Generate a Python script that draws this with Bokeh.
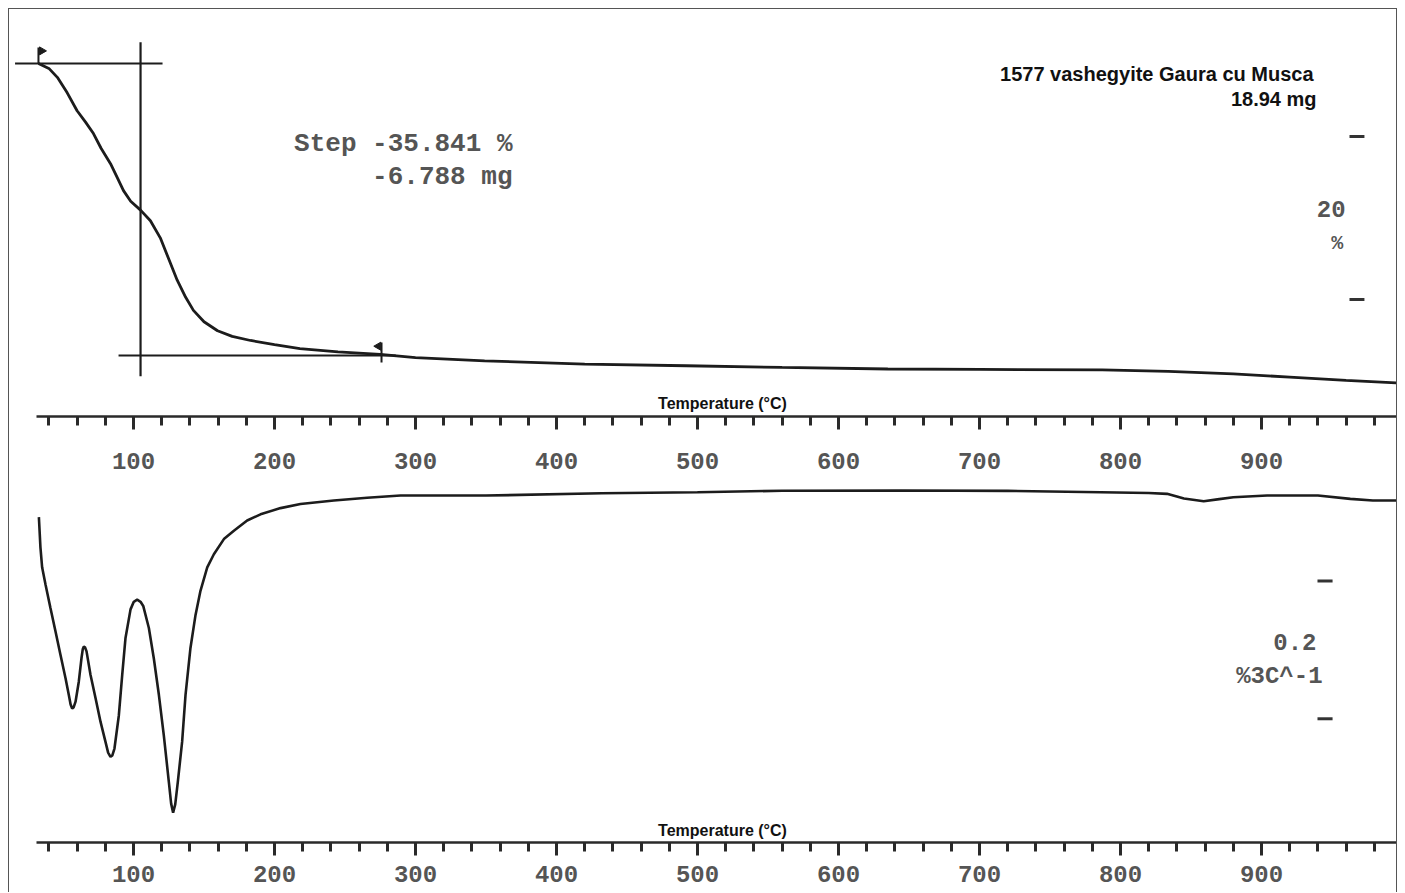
from bokeh.plotting import figure
from bokeh.layouts import column
from bokeh.models import Range1d, FixedTicker, Label
from bokeh.embed import file_html
from bokeh.resources import INLINE
import math

# ---------------- data ----------------
# TGA curve: temperature (deg C) vs mass (%)
tga_temp = [32.6, 40.0, 46.0, 53.0, 60.0, 66.0, 71.6, 77.0, 83.7, 88.5, 92.9, 98.0, 105.0, 112.0,
            119.0, 125.0, 131.0, 137.0, 142.5, 150.0, 159.6, 170.0, 183.0, 200.0, 218.0, 245.0,
            275.0, 300.0, 349.0, 420.0, 492.0, 560.0, 635.0, 700.0, 787.0, 834.0, 880.0, 920.0,
            960.0, 995.7]
tga_mass = [100.0, 99.4, 98.3, 96.4, 94.2, 92.8, 91.4, 89.6, 87.7, 86.0, 84.4, 83.1, 82.0, 80.7,
            78.6, 76.0, 73.4, 71.3, 69.7, 68.3, 67.2, 66.5, 66.0, 65.5, 65.0, 64.6,
            64.3, 63.9, 63.5, 63.1, 62.9, 62.7, 62.5, 62.45, 62.4, 62.2, 61.9, 61.5,
            61.1, 60.8]

# DTG curve: temperature (deg C) vs mass-loss rate (%/deg C)
dtg_temp = [32.9, 34.0, 35.2, 37.6, 41.1, 44.7, 48.2, 51.8, 54.1, 55.4, 56.5, 57.6, 58.9, 61.2,
            63.1, 64.0, 64.8, 65.6, 66.7, 69.5, 73.1, 76.6, 80.1, 82.0, 83.7, 85.0, 86.5, 89.6,
            92.0, 94.3, 97.9, 100.2, 102.6, 105.0, 106.9, 110.9, 114.4, 118.0, 121.5, 125.1,
            126.7, 128.1, 129.6, 131.4, 134.5, 136.9, 140.4, 144.0, 147.5, 152.3, 157.0, 164.1,
            171.2, 180.6, 190.1, 204.3, 218.4, 242.1, 265.7, 289.4, 350.0, 432.0, 500.0, 560.0,
            644.0, 720.0, 786.0, 820.0, 833.0, 845.0, 859.0, 870.0, 880.0, 904.0, 940.0, 963.0,
            979.0, 995.7]
dtg_rate = [-0.040, -0.084, -0.113, -0.138, -0.172, -0.206, -0.240, -0.274, -0.298, -0.312,
            -0.318, -0.316, -0.308, -0.279, -0.245, -0.232, -0.228, -0.229, -0.235, -0.269,
            -0.303, -0.337, -0.366, -0.382, -0.388, -0.386, -0.376, -0.328, -0.269, -0.216,
            -0.174, -0.163, -0.160, -0.163, -0.169, -0.201, -0.245, -0.298, -0.357, -0.425,
            -0.456, -0.469, -0.457, -0.425, -0.366, -0.298, -0.230, -0.182, -0.147, -0.113,
            -0.094, -0.072, -0.060, -0.045, -0.036, -0.027, -0.021, -0.016, -0.012, -0.0088,
            -0.0088, -0.0054, -0.0040, -0.0018, -0.0015, -0.0020, -0.0039, -0.0050, -0.0063,
            -0.0131, -0.0171, -0.0140, -0.0112, -0.0088, -0.0088, -0.0136, -0.0160, -0.0160]

major_ticks = [100, 200, 300, 400, 500, 600, 700, 800, 900]
minor_ticks = [40, 60, 80, 120, 140, 160, 180, 220, 240, 260, 280, 320, 340, 360, 380,
               420, 440, 460, 480, 520, 540, 560, 580, 620, 640, 660, 680, 720, 740, 760, 780,
               820, 840, 860, 880, 920, 940, 960, 980]

# step evaluation (TGA)
step_start_mass = 100.0
step_pct = -35.841
step_mg = -6.788
step_mid_temp = 105.0
step_left_temp = [16.0, 89.4]
step_right_temp = [120.6, 286.0]
step_vert_mass = [102.6, 61.6]
flag_start_temp = 32.6
flag_end_temp = 275.9

sample_name = "1577 vashegyite Gaura cu Musca"
sample_mass = "18.94 mg"
x_label = "Temperature (\u00b0C)"

# scale bars
tga_bar = [91.04, 71.04]          # 20 %
dtg_bar = [-0.1328, -0.3328]      # 0.2 %/degC

# ---------------- styling ----------------
INK = "#1c1c1c"
GREY = "#555555"
MONO = "Liberation Mono"
SANS = "Liberation Sans"

X_RANGE = (12.06, 995.74)
W = 1387


def style_axis(p, standoff):
    ax = p.xaxis[0]
    ax.ticker = FixedTicker(ticks=major_ticks, minor_ticks=minor_ticks)
    ax.bounds = (31.0, 995.74)
    ax.axis_line_width = 2.5
    ax.axis_line_color = "#2a2a2a"
    ax.major_tick_line_width = 3
    ax.minor_tick_line_width = 3
    ax.major_tick_line_color = "#2a2a2a"
    ax.minor_tick_line_color = "#2a2a2a"
    ax.major_tick_out = 13
    ax.major_tick_in = 0
    ax.minor_tick_out = 9
    ax.minor_tick_in = 0
    ax.major_label_text_font = MONO
    ax.major_label_text_font_style = "bold"
    ax.major_label_text_font_size = "24px"
    ax.major_label_text_color = GREY
    ax.major_label_standoff = standoff


def base_fig(height, y_range, border_bottom):
    p = figure(width=W, height=height, x_range=Range1d(*X_RANGE), y_range=Range1d(*y_range),
               output_backend="svg", toolbar_location=None, y_axis_location=None,
               min_border_left=0, min_border_right=0, min_border_top=0,
               min_border_bottom=border_bottom)
    p.grid.visible = False
    p.outline_line_color = None
    p.background_fill_color = "white"
    p.border_fill_color = "white"
    return p


def mono_label(p, x, y, text, size="24px"):
    p.add_layout(Label(x=x, y=y, text=text, text_font=MONO, text_font_style="bold",
                       text_font_size=size, text_color=GREY, text_align="right",
                       text_baseline="middle"))


def sans_label(p, x, y, text, size, align):
    p.add_layout(Label(x=x, y=y, text=text, text_font=SANS, text_font_style="bold",
                       text_font_size=size, text_color="#111111", text_align=align,
                       text_baseline="middle"))


# ---------------- top: TGA ----------------
p1 = base_fig(479, (56.67, 106.63), 72)
style_axis(p1, 23)
p1.line(tga_temp, tga_mass, line_color=INK, line_width=2.8)

end_mass = step_start_mass + step_pct
p1.segment(x0=[step_left_temp[0], step_mid_temp, step_left_temp[1]],
           y0=[step_start_mass, step_vert_mass[0], end_mass],
           x1=[step_right_temp[0], step_mid_temp, step_right_temp[1]],
           y1=[step_start_mass, step_vert_mass[1], end_mass],
           line_color=INK, line_width=2.2)
# evaluation limit flags
p1.segment(x0=[flag_start_temp, flag_end_temp], y0=[100.0, 63.3],
           x1=[flag_start_temp, flag_end_temp], y1=[101.96, 65.75],
           line_color=INK, line_width=2)
p1.scatter(x=[flag_start_temp + 2.4, flag_end_temp - 2.2], y=[101.55, 65.3],
           marker="triangle", size=8, angle=[-math.pi / 2, math.pi / 2],
           fill_color=INK, line_color=INK)

mono_label(p1, 368.8, 90.06, "Step %.3f %%" % step_pct, "26px")
mono_label(p1, 368.8, 86.13, "%.3f mg" % step_mg, "26px")
sans_label(p1, 936.9, 98.77, sample_name, "20px", "right")
sans_label(p1, 939.0, 95.70, sample_mass, "20px", "right")
sans_label(p1, 517.7, 58.27, x_label, "16px", "center")
# scale bar 20 %
p1.segment(x0=[962.4, 962.4], y0=tga_bar, x1=[973.0, 973.0], y1=tga_bar,
           line_color="#333333", line_width=3)
mono_label(p1, 959.6, 82.08, "20")
mono_label(p1, 958.0, 77.9, "%", "20px")

# ---------------- bottom: DTG ----------------
p2 = base_fig(404, (-0.5124, 0.00146), 50)
style_axis(p2, 10)
p2.line(dtg_temp, dtg_rate, line_color=INK, line_width=2.6)
sans_label(p2, 517.7, -0.4949, x_label, "16px", "center")
p2.segment(x0=[939.7, 939.7], y0=dtg_bar, x1=[950.4, 950.4], y1=dtg_bar,
           line_color="#333333", line_width=3)
mono_label(p2, 939.0, -0.2219, "0.2")
mono_label(p2, 943.3, -0.2715, "%3C^-1")

layout = column(p1, p2, spacing=0,
                styles={"margin-left": "8px", "margin-top": "8px",
                        "border-left": "1px solid #555555",
                        "border-top": "1px solid #555555",
                        "border-right": "1px solid #555555"})

open("out.html", "w").write(file_html(layout, INLINE))
